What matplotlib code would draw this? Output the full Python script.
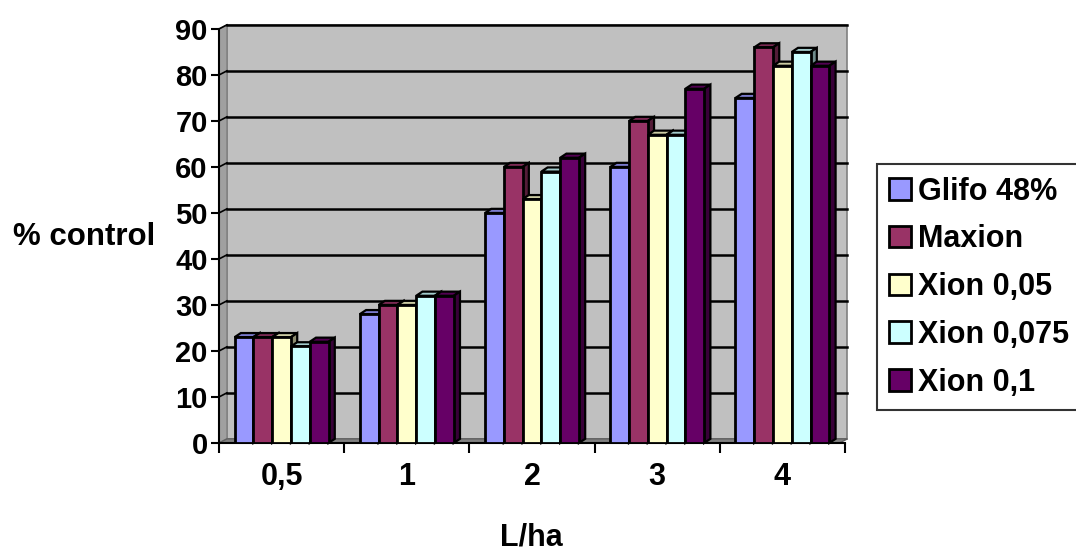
import matplotlib
matplotlib.use("Agg")
import matplotlib.pyplot as plt
from matplotlib.patches import Polygon, Rectangle
import numpy as np

plt.rcParams['font.family'] = ['Liberation Sans', 'DejaVu Sans']
plt.rcParams['font.weight'] = 'bold'

categories = ['0,5', '1', '2', '3', '4']
series_names = ['Glifo 48%', 'Maxion', 'Xion 0,05', 'Xion 0,075', 'Xion 0,1']
glifo = [23, 28, 50, 60, 75]
maxion = [23, 30, 60, 70, 86]
xion005 = [23, 30, 53, 67, 82]
xion0075 = [21, 32, 59, 67, 85]
xion01 = [22, 32, 62, 77, 82]
colors = ['#9999FF', '#993366', '#FFFFCC', '#CCFFFF', '#660066']

data = [glifo, maxion, xion005, xion0075, xion01]

def darker(c, f):
    r, g, b = matplotlib.colors.to_rgb(c)
    return (r * f, g * f, b * f)

fig = plt.figure(figsize=(10.76, 5.52), dpi=100)
ax = fig.add_axes([0.2035, 0.1975, 0.5818, 0.75])
ax.set_xlim(-0.5, 4.5)
ax.set_ylim(0, 90)

# depth of the 3d look in data units
dx = 0.064
dy = 0.9
xmin, xmax = -0.5, 4.5

# back wall, side wall, floor
ax.add_patch(Rectangle((xmin + dx, dy), xmax - xmin - dx + 0.02, 90, facecolor='#C0C0C0',
                       edgecolor='#808080', lw=1.2, clip_on=False, zorder=0))
ax.add_patch(Polygon([[xmin, 0], [xmin + dx, dy], [xmin + dx, 90 + dy], [xmin, 90]],
                     facecolor='#A0A0A0', edgecolor='#808080', lw=1, clip_on=False, zorder=0))
ax.add_patch(Polygon([[xmin, 0], [xmin + dx, dy], [xmax + 0.02, dy], [xmax - dx + 0.02, 0]],
                     facecolor='#808080', edgecolor='#606060', lw=1, clip_on=False, zorder=0))
for v in range(10, 91, 10):
    ax.plot([xmin + dx, xmax + 0.02], [v + dy, v + dy], color='black', lw=1.8, zorder=1, clip_on=False)
    ax.plot([xmin, xmin + dx], [v, v + dy], color='black', lw=1.2, zorder=1, clip_on=False)

x = np.arange(len(categories))
w = 0.15
bdx = 0.05
bdy = 0.9
for i, vals in enumerate(data):
    pos = x + (i - 2) * w
    ax.bar(pos, vals, width=w, color=colors[i], edgecolor='black', lw=2.0, zorder=3,
           label=series_names[i])
    for p, v in zip(pos, vals):
        l, r = p - w / 2, p + w / 2
        ax.add_patch(Polygon([[l, v], [l + bdx, v + bdy], [r + bdx, v + bdy], [r, v]],
                             facecolor=darker(colors[i], 0.8), edgecolor='black', lw=1.6, zorder=2,
                             clip_on=False))
        ax.add_patch(Polygon([[r, 0], [r + bdx, bdy], [r + bdx, v + bdy], [r, v]],
                             facecolor=darker(colors[i], 0.55), edgecolor='black', lw=1.6, zorder=2,
                             clip_on=False))

for s in ['top', 'right']:
    ax.spines[s].set_visible(False)
ax.spines['left'].set_linewidth(1.5)
ax.spines['bottom'].set_linewidth(1.5)
ax.set_facecolor('none')

ax.set_yticks(range(0, 91, 10))
ax.set_yticklabels([str(v) for v in range(0, 91, 10)], fontsize=21, fontweight='bold')
ax.set_xticks(np.arange(-0.5, 4.6, 1))
ax.set_xticklabels([])
ax.set_xticks(x, minor=True)
ax.set_xticklabels(categories, minor=True, fontsize=22, fontweight='bold')
ax.tick_params(axis='x', which='minor', length=0, pad=14)
ax.tick_params(axis='x', which='major', length=7, width=1.5, direction='out')
ax.tick_params(axis='y', length=6, width=1.5, pad=2)

fig.text(0.078, 0.57, '% control', fontsize=22.5, fontweight='bold', ha='center', va='center')
fig.text(0.494, 0.027, 'L/ha', fontsize=22, fontweight='bold', ha='center', va='center')

leg = fig.legend(loc='upper left', bbox_to_anchor=(0.815, 0.702), frameon=True,
                 fancybox=False, edgecolor='black', handlelength=0.7, handleheight=0.7,
                 handletextpad=0.25, labelspacing=0.58, borderpad=0.4, borderaxespad=0,
                 prop={'weight': 'bold', 'size': 22})
leg.get_frame().set_linewidth(1.5)

fig.savefig('out.png', dpi=100)
